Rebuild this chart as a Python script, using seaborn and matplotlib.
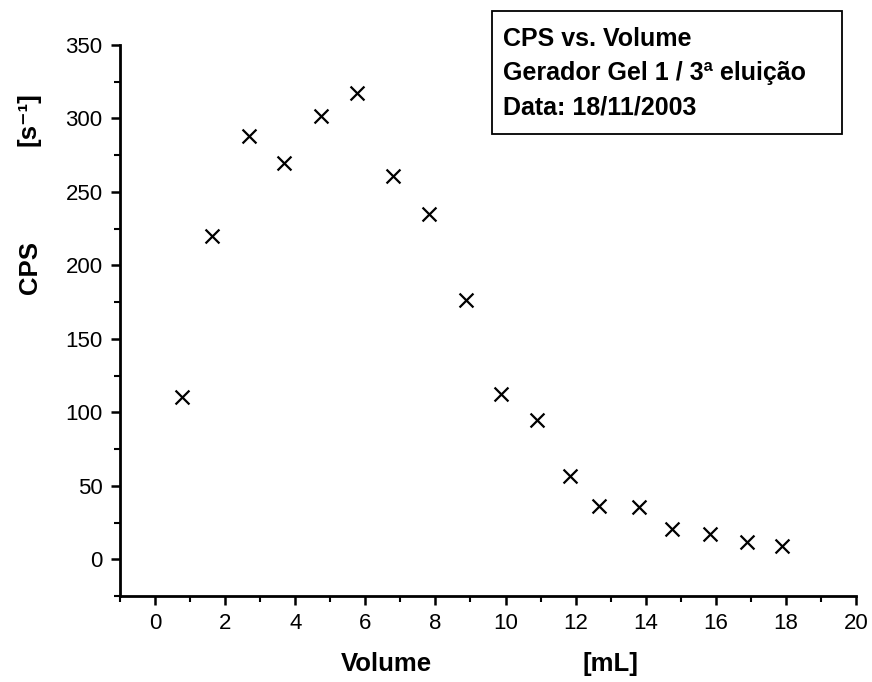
import matplotlib
matplotlib.use("Agg")
import matplotlib.pyplot as plt
import seaborn as sns
import pandas as pd
from matplotlib.ticker import MultipleLocator
from matplotlib.patches import Rectangle

volume = [0.76, 1.62, 2.67, 3.69, 4.74, 5.77, 6.78, 7.81, 8.86, 9.86,
          10.91, 11.83, 12.67, 13.81, 14.74, 15.83, 16.88, 17.89]
cps = [110.7, 220.3, 288.1, 269.6, 301.7, 317.2, 260.8, 235.3, 176.7, 112.6,
       94.8, 56.8, 36.4, 35.9, 20.9, 17.5, 11.8, 9.1]
x_ticks = list(range(0, 21, 2))
y_ticks = list(range(0, 351, 50))

sns.set_style("ticks")
plt.rcParams['font.family'] = ['Liberation Sans', 'DejaVu Sans']
plt.rcParams['text.color'] = 'black'
plt.rcParams['axes.labelcolor'] = 'black'
plt.rcParams['xtick.color'] = 'black'
plt.rcParams['ytick.color'] = 'black'

df = pd.DataFrame({"Volume": volume, "CPS": cps})

fig = plt.figure(figsize=(8.72, 6.82), dpi=100)
ax = fig.add_axes([0.1376, 0.1261, 0.9817 - 0.1376, 0.934 - 0.1261])

sns.scatterplot(data=df, x="Volume", y="CPS", marker="x", s=100,
                color="black", linewidth=1.6, ax=ax, legend=False)

ax.set_xlim(-1, 20)
ax.set_ylim(-25, 350)
ax.set_xticks(x_ticks)
ax.set_yticks(y_ticks)
ax.xaxis.set_minor_locator(MultipleLocator(1))
ax.yaxis.set_minor_locator(MultipleLocator(25))
ax.tick_params(axis="both", which="major", direction="out", length=6.5, width=1.8,
               labelsize=16, color="black", labelcolor="black", pad=6)
ax.tick_params(axis="both", which="minor", direction="out", length=4, width=1.5,
               color="black")
for s in ["top", "right"]:
    ax.spines[s].set_visible(False)
for s in ["left", "bottom"]:
    ax.spines[s].set_linewidth(2)
    ax.spines[s].set_color("black")

ax.set_xlabel("")
ax.set_ylabel("")

fig.text(386 / 872, 1 - 664 / 682, "Volume", ha="center", va="center",
         fontsize=18.5, fontweight="bold")
fig.text(610 / 872, 1 - 664 / 682, "[mL]", ha="center", va="center",
         fontsize=18.5, fontweight="bold")
fig.text(30 / 872, 1 - 268 / 682, "CPS", ha="center", va="center",
         fontsize=18.5, fontweight="bold", rotation=90)
fig.text(28 / 872, 1 - 119 / 682, "[s⁻¹]", ha="center", va="center",
         fontsize=18.5, fontweight="bold", rotation=90)

# text box
fig.patches.append(Rectangle((492 / 872, 1 - 134 / 682), 350 / 872, 123 / 682,
                             transform=fig.transFigure, facecolor="white",
                             edgecolor="black", linewidth=1.3, zorder=5))
box_text = "CPS vs. Volume\nGerador Gel 1 / 3ª eluição\nData: 18/11/2003"
fig.text(503 / 872, 1 - 73 / 682, box_text, ha="left", va="center",
         fontsize=18, fontweight="bold", linespacing=1.55, zorder=6)

fig.savefig("out.png", dpi=100)
